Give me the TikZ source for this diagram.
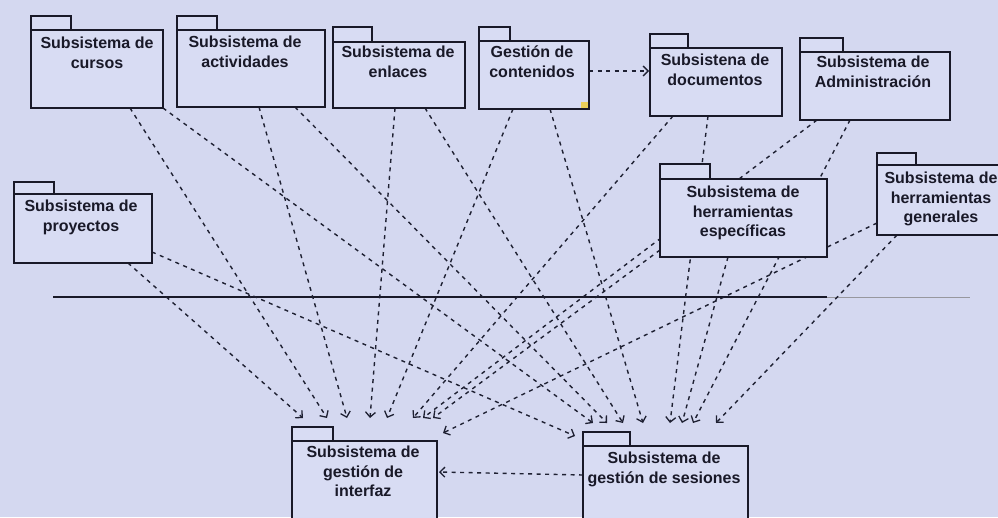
\documentclass[tikz,border=0pt]{standalone}
\usepackage{fontspec}
\setmainfont{Liberation Sans}
\usetikzlibrary{arrows.meta}
\definecolor{bgc}{RGB}{212,216,240}
\definecolor{pkgfill}{RGB}{216,220,243}
\definecolor{ink}{RGB}{25,25,40}
\definecolor{depc}{RGB}{30,32,50}
\definecolor{notec}{RGB}{236,208,90}
\tikzset{
  pkgline/.style={draw=ink, fill=pkgfill, line width=1.1pt},
  pkgbody/.style={draw=ink, fill=pkgfill, line width=1.1pt, rectangle, inner sep=0pt, outer sep=0pt},
  pkgtext/.style={font=\bfseries\fontsize{16}{19.5}\selectfont, text=ink, align=center, anchor=north, inner sep=0pt},
  depline/.style={draw=depc, line width=1.4pt, dash pattern=on 4pt off 4.5pt,
    -{Straight Barb[length=5pt,width=10pt,line width=1.3pt]}},
}
\newcommand{\pkgbox}[7]{%
  \draw[pkgline] (#2,#7) rectangle (#6,#3);
  \node[pkgbody, anchor=north west, minimum width={(#4-#2)*1pt}, minimum height={(#5-#3)*1pt}] (#1) at (#2,#3) {};
}
\begin{document}
\begin{tikzpicture}[x=1pt,y=-1pt]
\useasboundingbox (0,0) rectangle (998,517);
\fill[bgc] (0,0) rectangle (998,517);
\clip (0,0) rectangle (998,517);

% separator line
\coordinate (sepL) at (53,297);
\coordinate (sepM) at (827,297);
\coordinate (sepR) at (970,297);
\draw[ink, line width=1.1pt] (sepL) -- (sepM);
\draw[ink!45, line width=0.9pt] (sepM) -- (sepR);

% connector end points
\coordinate (pro-i) at (128,263);  \coordinate (i-pro) at (303,418);
\coordinate (cur-i) at (130,108);  \coordinate (i-cur) at (327,418);
\coordinate (act-i) at (259,107);  \coordinate (i-act) at (347,418);
\coordinate (enl-i) at (395,108);  \coordinate (i-enl) at (370,418);
\coordinate (con-i) at (513,109);  \coordinate (i-con) at (387,418);
\coordinate (doc-i) at (673,116);  \coordinate (i-doc) at (413,418);
\coordinate (adm-i) at (817,120);  \coordinate (i-adm) at (423,418);
\coordinate (hes-i) at (660,250);  \coordinate (i-hes) at (433,418);
\coordinate (hge-i) at (877,223);  \coordinate (i-hge) at (443,433);

\coordinate (pro-s) at (152,252);  \coordinate (s-pro) at (575,436);
\coordinate (cur-s) at (163,108);  \coordinate (s-cur) at (593,423);
\coordinate (act-s) at (295,107);  \coordinate (s-act) at (607,423);
\coordinate (enl-s) at (425,108);  \coordinate (s-enl) at (623,423);
\coordinate (con-s) at (550,109);  \coordinate (s-con) at (643,423);
\coordinate (doc-s) at (708,116);  \coordinate (s-doc) at (670,423);
\coordinate (hes-s) at (728,257);  \coordinate (s-hes) at (682,423);
\coordinate (adm-s) at (850,120);  \coordinate (s-adm) at (693,423);
\coordinate (hge-s) at (897,235);  \coordinate (s-hge) at (716,423);

\coordinate (con-d) at (589,71);   \coordinate (d-con) at (649,71);
\coordinate (ses-i) at (583,475);  \coordinate (i-ses) at (439,472);

% dependencies
\foreach \p in {pro,cur,act,enl,con,doc,adm,hes,hge}{
  \draw[depline] (\p-i) -- (i-\p);
  \draw[depline] (\p-s) -- (s-\p);
}
\draw[depline] (con-d) -- (d-con);
\draw[depline] (ses-i) -- (i-ses);

% packages
\pkgbox{cursos}{31}{30}{163}{108}{71}{16}
\pkgbox{actividades}{177}{30}{325}{107}{217}{16}
\pkgbox{enlaces}{333}{42}{465}{108}{372}{27}
\pkgbox{contenidos}{479}{41}{589}{109}{510}{27}
\pkgbox{documentos}{650}{48}{782}{116}{688}{34}
\pkgbox{admin}{800}{52}{950}{120}{843}{38}
\pkgbox{proyectos}{14}{194}{152}{263}{54}{182}
\pkgbox{hesp}{660}{179}{827}{257}{710}{164}
\pkgbox{hgen}{877}{165}{1010}{235}{916}{153}
\pkgbox{interfaz}{292}{441}{437}{530}{333}{427}
\pkgbox{sesiones}{583}{446}{748}{530}{630}{432}

\fill[notec] (581,102) rectangle (588,108);

% texts
\node[pkgtext] (cursos-t) at (97,37) {Subsistema de\\cursos};
\node[pkgtext] (actividades-t) at (245,36) {Subsistema de\\actividades};
\node[pkgtext] (enlaces-t) at (398,46) {Subsistema de\\enlaces};
\node[pkgtext] (contenidos-t) at (532,46) {Gestión de\\contenidos};
\node[pkgtext] (documentos-t) at (715,54) {Subsistena de\\documentos};
\node[pkgtext] (admin-t) at (873,56) {Subsistema de\\Administración};
\node[pkgtext] (proyectos-t) at (81,200) {Subsistema de\\proyectos};
\node[pkgtext] (hesp-t) at (743,186) {Subsistema de\\herramientas\\específicas};
\node[pkgtext] (hgen-t) at (941,172) {Subsistema de\\herramientas\\generales};
\node[pkgtext] (interfaz-t) at (363,446) {Subsistema de\\gestión de\\interfaz};
\node[pkgtext] (sesiones-t) at (664,452) {Subsistema de\\gestión de sesiones};
\end{tikzpicture}
\end{document}
